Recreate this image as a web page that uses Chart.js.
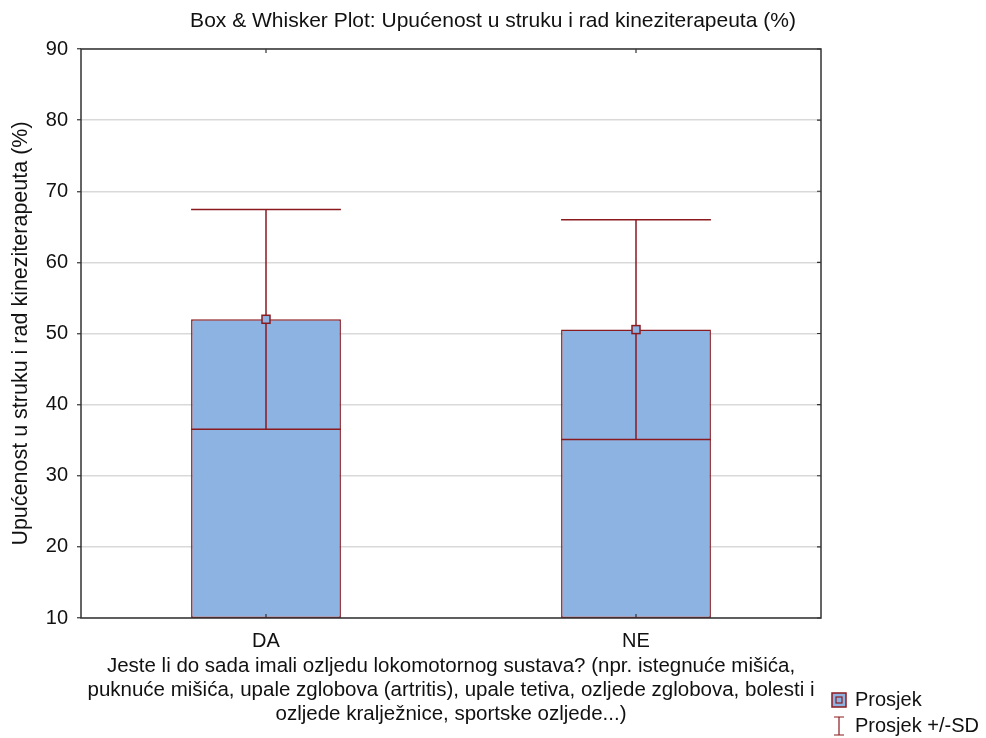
<!DOCTYPE html>
<html>
<head>
<meta charset="utf-8">
<script src="https://cdn.jsdelivr.net/npm/chart.js@4/dist/chart.umd.min.js"></script>
<style>
html,body{margin:0;padding:0;background:#fff;}
#c{display:block;}
</style>
</head>
<body>
<canvas id="c" width="986" height="738"></canvas>
<script>
const categories = ['DA', 'NE'];
const means = [52.0, 50.55];
const sds = [15.45, 15.45];
const yMin = 10, yMax = 90, yStep = 10;
const titleText = 'Box & Whisker Plot: Upućenost u struku i rad kineziterapeuta (%)';
const yTitle = 'Upućenost u struku i rad kineziterapeuta (%)';
const xTitle = [
  'Jeste li do sada imali ozljedu lokomotornog sustava? (npr. istegnuće mišića,',
  'puknuće mišića, upale zglobova (artritis), upale tetiva, ozljede zglobova, bolesti i',
  'ozljede kralježnice, sportske ozljede...)'
];
const legendLabels = ['Prosjek', 'Prosjek +/-SD'];

const FILL = '#8DB3E2';
const EDGE = '#8B1A1F';
const FONT = "'Liberation Sans', Arial, sans-serif";
const TXT = '#111';

const extras = {
  id: 'extras',
  afterDatasetsDraw(chart) {
    const ctx = chart.ctx;
    const y = chart.scales.y;
    const x = chart.scales.x;
    const area = chart.chartArea;
    const meta = chart.getDatasetMeta(0);
    ctx.save();
    meta.data.forEach((el, i) => {
      const cx = el.x, half = el.width / 2;
      const yTop = y.getPixelForValue(means[i] + sds[i]);
      const yLow = y.getPixelForValue(means[i] - sds[i]);
      const yM = y.getPixelForValue(means[i]);
      ctx.strokeStyle = EDGE;
      ctx.lineWidth = 1.5;
      ctx.beginPath();
      ctx.moveTo(cx - half, yLow); ctx.lineTo(cx + half, yLow);
      ctx.moveTo(cx, yLow); ctx.lineTo(cx, yTop);
      ctx.moveTo(cx - half, yTop); ctx.lineTo(cx + half, yTop);
      ctx.stroke();
      ctx.fillStyle = FILL;
      ctx.fillRect(cx - 4, yM - 4, 8, 8);
      ctx.strokeRect(cx - 4, yM - 4, 8, 8);
    });
    // frame
    ctx.strokeStyle = '#333';
    ctx.lineWidth = 1.5;
    ctx.strokeRect(area.left, area.top, area.right - area.left, area.bottom - area.top);
    // inner ticks
    ctx.lineWidth = 1.2;
    ctx.beginPath();
    y.ticks.forEach((t, i) => {
      const py = y.getPixelForTick(i);
      ctx.moveTo(area.right, py); ctx.lineTo(area.right - 4, py);
    });
    x.ticks.forEach((t, i) => {
      const px = x.getPixelForTick(i);
      ctx.moveTo(px, area.top); ctx.lineTo(px, area.top + 4);
      ctx.moveTo(px, area.bottom); ctx.lineTo(px, area.bottom - 4);
    });
    ctx.stroke();
    // legend
    const lx = 832, ly1 = 700, ly2 = 726;
    ctx.fillStyle = FILL;
    ctx.fillRect(lx, ly1 - 7, 14, 14);
    ctx.strokeStyle = EDGE;
    ctx.lineWidth = 1.5;
    ctx.strokeRect(lx, ly1 - 7, 14, 14);
    ctx.lineWidth = 1.2;
    ctx.strokeRect(lx + 4, ly1 - 3, 6, 6);
    ctx.beginPath();
    ctx.moveTo(lx + 2, ly2 - 9); ctx.lineTo(lx + 12, ly2 - 9);
    ctx.moveTo(lx + 7, ly2 - 9); ctx.lineTo(lx + 7, ly2 + 9);
    ctx.moveTo(lx + 2, ly2 + 9); ctx.lineTo(lx + 12, ly2 + 9);
    ctx.stroke();
    ctx.fillStyle = TXT;
    ctx.font = '20px ' + FONT;
    ctx.textBaseline = 'middle';
    ctx.textAlign = 'left';
    ctx.fillText(legendLabels[0], 855, ly1);
    ctx.fillText(legendLabels[1], 855, ly2);
    ctx.restore();
  }
};

new Chart(document.getElementById('c'), {
  type: 'bar',
  data: {
    labels: categories,
    datasets: [{
      data: means.map(m => [yMin, m]),
      backgroundColor: FILL,
      borderColor: EDGE,
      borderWidth: 1.5,
      borderSkipped: false,
      categoryPercentage: 1,
      barPercentage: 0.405
    }]
  },
  options: {
    responsive: false,
    animation: false,
    devicePixelRatio: 1,
    layout: { padding: 0 },
    plugins: {
      legend: { display: false },
      tooltip: { enabled: false },
      title: {
        display: true,
        text: titleText,
        color: TXT,
        font: { family: FONT, size: 21, weight: 'normal', lineHeight: 1.0 },
        padding: { top: 11, bottom: 17 }
      }
    },
    scales: {
      x: {
        offset: true,
        grid: { display: true, drawOnChartArea: false, drawTicks: false, color: 'rgba(0,0,0,0)' },
        border: { display: false },
        ticks: { color: TXT, font: { family: FONT, size: 20 }, padding: 11 },
        title: {
          display: true,
          text: xTitle,
          color: TXT,
          font: { family: FONT, size: 20.5, lineHeight: 1.17 },
          padding: { top: 0, bottom: 12 }
        },
        afterFit(s) { s.height = 120; }
      },
      y: {
        min: yMin, max: yMax,
        ticks: { stepSize: yStep, color: TXT, font: { family: FONT, size: 20 }, padding: 9 },
        grid: { color: '#d9d9d9', lineWidth: 1.5, tickLength: 4, tickColor: '#333', tickWidth: 1.2 },
        border: { display: false },
        title: {
          display: true,
          text: yTitle,
          color: TXT,
          font: { family: FONT, size: 21.5, lineHeight: 1.0 },
          padding: { top: 10, bottom: 0 }
        },
        afterFit(s) { s.width = 81; }
      },
      spacer: {
        type: 'linear',
        position: 'right',
        display: true,
        grid: { display: false, drawTicks: false },
        border: { display: false },
        ticks: { display: false },
        afterFit(s) { s.width = 165; }
      }
    }
  },
  plugins: [extras]
});
</script>
</body>
</html>
